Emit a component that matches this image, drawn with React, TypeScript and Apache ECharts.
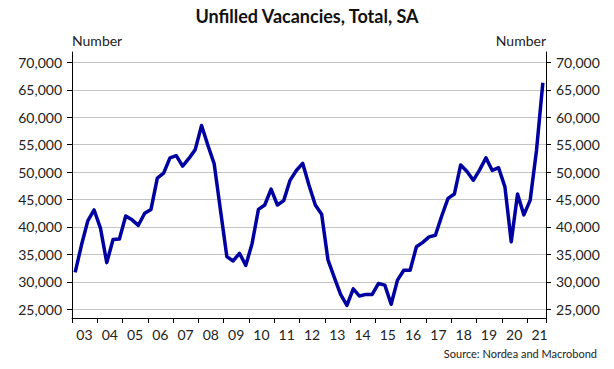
import React, { useEffect, useRef } from 'react';
import * as echarts from 'echarts';

const TITLE = 'Unfilled Vacancies, Total, SA';
const UNIT = 'Number';
const SOURCE = 'Source: Nordea and Macrobond';

const yearLabels: string[] = ['03','04','05','06','07','08','09','10','11','12','13','14','15','16','17','18','19','20','21'];

const vacancies: number[] = [
  31700, 36700, 41100, 43100, 39800, 33500, 37700, 37800,
  42000, 41300, 40300, 42500, 43200, 48900, 49800, 52600,
  53000, 51100, 52500, 54100, 58500, 54900, 51500, 43000,
  34600, 33800, 35200, 33000, 37000, 43200, 44000, 46900,
  44000, 44800, 48500, 50300, 51600, 47600, 44000, 42300,
  34000, 30800, 27700, 25700, 28700, 27400, 27700, 27700,
  29700, 29400, 25900, 30300, 32100, 32100, 36400, 37200,
  38200, 38500, 42000, 45200, 46000, 51300, 50100, 48500,
  50400, 52600, 50300, 50800, 47300, 37300, 46000, 42200,
  44900, 54000, 66300,
];

const quarterCats: string[] = vacancies.map((_, i) => `${yearLabels[Math.floor(i / 4)]}Q${(i % 4) + 1}`);

const Y_MIN = 23400;
const Y_MAX = 71900;
const Y_STEP = 5000;

const FONT = 'Lato';
const TEXT_COLOR = '#222';

export default function App() {
  const ref = useRef<HTMLDivElement>(null);

  useEffect(() => {
    if (!ref.current) return;
    const chart = echarts.init(ref.current, undefined, { renderer: 'svg' });

    const yAxisCommon = {
      type: 'value' as const,
      min: Y_MIN,
      max: Y_MAX,
      minInterval: Y_STEP,
      maxInterval: Y_STEP,
      axisLine: { show: true, lineStyle: { color: '#000', width: 1 } },
      axisTick: { show: true, length: 5, inside: false, lineStyle: { color: '#000' } },
      axisLabel: {
        show: true,
        showMinLabel: false,
        showMaxLabel: false,
        margin: 10,
        color: TEXT_COLOR,
        fontFamily: FONT,
        fontSize: 14,
        formatter: (v: number) => v.toLocaleString('en-US'),
      },
      nameTextStyle: { color: TEXT_COLOR, fontFamily: FONT, fontSize: 14 },
      nameLocation: 'end' as const,
      nameGap: 5,
    };

    chart.setOption({
      animation: false,
      backgroundColor: '#fff',
      title: {
        text: TITLE,
        left: 'center',
        top: 2,
        textStyle: { fontFamily: FONT, fontWeight: 'bold', fontSize: 18, color: '#111' },
      },
      graphic: [
        {
          type: 'text',
          right: 17,
          top: 348,
          style: { text: SOURCE, fontFamily: FONT, fontSize: 11, fill: TEXT_COLOR },
        },
      ],
      grid: { left: 72, right: 68, top: 52, bottom: 51, containLabel: false },
      xAxis: {
        type: 'category',
        data: quarterCats,
        boundaryGap: true,
        axisLine: { show: true, lineStyle: { color: '#000', width: 1 } },
        axisTick: {
          show: true,
          length: 5,
          interval: (index: number) => index % 4 === 0,
          lineStyle: { color: '#000' },
        },
        axisLabel: {
          interval: (index: number) => index % 4 === 1,
          formatter: (v: string) => v.slice(0, 2),
          margin: 9,
          padding: [0, 0, 0, 6],
          color: TEXT_COLOR,
          fontFamily: FONT,
          fontSize: 14,
        },
        splitLine: { show: false },
      },
      yAxis: [
        {
          ...yAxisCommon,
          position: 'left',
          name: UNIT,
          nameTextStyle: { ...yAxisCommon.nameTextStyle, align: 'left' },
          splitLine: {
            show: true,
            showMinLine: false,
            showMaxLine: false,
            lineStyle: { color: '#c4c4c4', width: 1 },
          },
        },
        {
          ...yAxisCommon,
          position: 'right',
          name: UNIT,
          nameTextStyle: { ...yAxisCommon.nameTextStyle, align: 'right' },
          splitLine: { show: false },
        },
      ],
      series: [
        {
          type: 'line',
          data: vacancies,
          yAxisIndex: 0,
          symbol: 'none',
          lineStyle: { color: '#0000a0', width: 3.5, join: 'round' },
          itemStyle: { color: '#0000a0' },
          z: 3,
        },
      ],
    });

    return () => chart.dispose();
  }, []);

  return (
    <div
      ref={ref}
      style={{ position: 'fixed', left: 0, top: 0, width: 614, height: 369, background: '#fff' }}
    />
  );
}
